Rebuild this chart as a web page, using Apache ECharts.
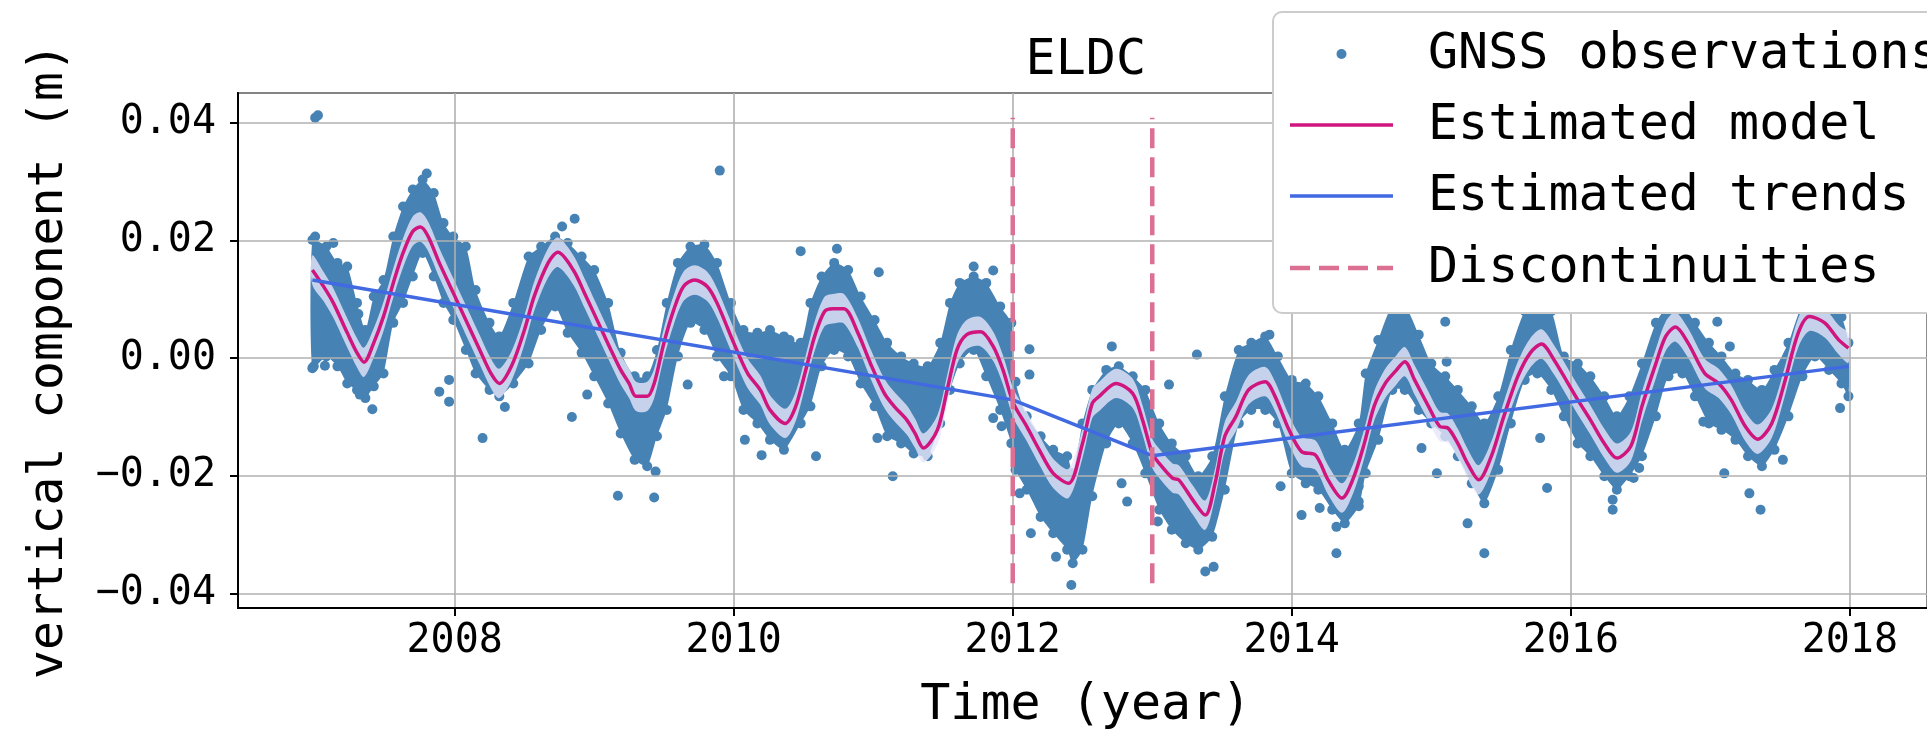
<!DOCTYPE html>
<html><head><meta charset="utf-8">
<script src="https://cdn.jsdelivr.net/npm/echarts@6/dist/echarts.min.js"></script>
<style>html,body{margin:0;padding:0;background:#fff}#c{width:1927px;height:736px}</style>
</head><body><div id="c"></div>
<script>
// ---- data ----
const envTime  = [2006.98,2007.08,2007.16,2007.23,2007.30,2007.36,2007.42,2007.49,2007.56,2007.63,2007.70,2007.77,2007.85,2007.92,2007.99,2008.08,2008.15,2008.25,2008.32,2008.42,2008.53,2008.62,2008.72,2008.81,2008.91,2009.00,2009.10,2009.19,2009.29,2009.38,2009.45,2009.52,2009.60,2009.69,2009.79,2009.88,2009.98,2010.07,2010.17,2010.26,2010.36,2010.48,2010.55,2010.63,2010.72,2010.82,2010.91,2011.01,2011.10,2011.20,2011.29,2011.39,2011.48,2011.55,2011.62,2011.72,2011.81,2011.91,2011.99,2012.02,2012.10,2012.20,2012.29,2012.39,2012.43,2012.50,2012.57,2012.67,2012.76,2012.86,2012.95,2013.05,2013.14,2013.24,2013.33,2013.43,2013.52,2013.62,2013.71,2013.81,2013.90,2014.00,2014.10,2014.19,2014.29,2014.38,2014.48,2014.53,2014.62,2014.72,2014.81,2014.91,2015.00,2015.10,2015.19,2015.29,2015.38,2015.48,2015.57,2015.67,2015.76,2015.86,2015.95,2016.05,2016.14,2016.24,2016.33,2016.42,2016.51,2016.61,2016.70,2016.80,2016.89,2016.99,2017.08,2017.18,2017.27,2017.37,2017.46,2017.56,2017.66,2017.75,2017.85,2017.94,2017.99];
const envUpper = [0.0201,0.0190,0.0162,0.0156,0.0094,0.0048,0.0105,0.0133,0.0207,0.0258,0.0287,0.0304,0.0281,0.0230,0.0207,0.0190,0.0116,0.0060,0.0037,0.0094,0.0173,0.0190,0.0207,0.0196,0.0173,0.0150,0.0094,0.0009,-0.0031,-0.0031,0.0014,0.0094,0.0162,0.0190,0.0193,0.0162,0.0094,0.0048,0.0043,0.0048,0.0037,0.0026,0.0094,0.0139,0.0162,0.0150,0.0105,0.0065,0.0026,0.0003,-0.0009,-0.0014,0.0026,0.0094,0.0128,0.0139,0.0128,0.0088,0.0060,-0.0040,-0.0099,-0.0133,-0.0156,-0.0167,-0.0196,-0.0111,-0.0054,-0.0020,-0.0014,-0.0031,-0.0054,-0.0111,-0.0145,-0.0167,-0.0201,-0.0167,-0.0065,0.0014,0.0026,0.0037,0.0003,-0.0037,-0.0043,-0.0065,-0.0111,-0.0156,-0.0111,-0.0026,0.0031,0.0090,0.0090,0.0040,-0.0009,-0.0031,-0.0054,-0.0082,-0.0111,-0.0065,0.0014,0.0080,0.0090,0.0080,0.0003,-0.0009,-0.0031,-0.0065,-0.0099,-0.0065,-0.0009,0.0060,0.0090,0.0090,0.0060,0.0026,0.0003,-0.0026,-0.0037,-0.0054,-0.0020,0.0026,0.0090,0.0090,0.0085,0.0070,0.0026];
const envLower = [-0.0017,0.0003,-0.0014,-0.0043,-0.0054,-0.0068,-0.0048,-0.0026,0.0060,0.0094,0.0139,0.0179,0.0139,0.0094,0.0065,0.0014,-0.0026,-0.0054,-0.0065,-0.0043,-0.0009,0.0048,0.0088,0.0043,0.0009,-0.0031,-0.0077,-0.0128,-0.0173,-0.0184,-0.0133,-0.0088,0.0003,0.0060,0.0048,0.0003,-0.0031,-0.0088,-0.0111,-0.0139,-0.0156,-0.0111,-0.0082,-0.0014,0.0014,0.0003,-0.0043,-0.0082,-0.0133,-0.0145,-0.0162,-0.0167,-0.0111,-0.0054,-0.0009,0.0014,-0.0031,-0.0088,-0.0145,-0.0190,-0.0224,-0.0270,-0.0298,-0.0326,-0.0349,-0.0326,-0.0235,-0.0145,-0.0111,-0.0145,-0.0196,-0.0258,-0.0292,-0.0315,-0.0326,-0.0304,-0.0224,-0.0111,-0.0088,-0.0088,-0.0111,-0.0196,-0.0213,-0.0224,-0.0258,-0.0281,-0.0252,-0.0196,-0.0139,-0.0054,-0.0054,-0.0088,-0.0111,-0.0133,-0.0167,-0.0213,-0.0247,-0.0190,-0.0111,-0.0037,-0.0026,-0.0054,-0.0099,-0.0145,-0.0167,-0.0201,-0.0224,-0.0201,-0.0167,-0.0099,-0.0031,-0.0026,-0.0065,-0.0111,-0.0122,-0.0139,-0.0167,-0.0184,-0.0156,-0.0099,-0.0031,0.0003,-0.0020,-0.0043,-0.0065];

const outlierTime  = [2007.00,2007.02,2007.80,2007.41,2008.20,2007.89,2007.96,2007.96,2006.99,2007.07,2008.36,2007.32,2007.31,2007.00,2007.13,2009.90,2008.86,2008.77,2008.84,2008.95,2009.17,2009.43,2009.44,2009.67,2009.93,2010.08,2010.20,2010.40,2010.48,2010.74,2011.04,2010.59,2011.14,2011.03,2011.72,2011.86,2011.86,2011.92,2012.12,2012.12,2012.13,2012.31,2012.42,2012.05,2012.71,2013.32,2013.12,2012.78,2012.82,2013.04,2013.38,2013.44,2013.92,2013.84,2014.07,2014.20,2014.32,2014.32,2015.10,2015.11,2014.93,2015.04,2015.26,2015.38,2015.78,2015.83,2016.30,2016.30,2014.48,2014.48,2017.14,2017.05,2016.95,2017.10,2017.28,2017.36,2017.52,2017.93,2016.49,2016.45];
const outlierValue = [0.0409,0.0413,0.0314,-0.0087,-0.0136,-0.0057,-0.0074,-0.0037,-0.0014,-0.0013,-0.0083,-0.0062,0.0075,0.0207,0.0196,0.0319,0.0237,0.0224,-0.0100,-0.0062,-0.0234,-0.0237,-0.0193,-0.0045,-0.0031,-0.0139,-0.0165,0.0031,0.0182,0.0186,0.0146,-0.0167,-0.0201,-0.0136,0.0156,0.0149,-0.0102,-0.0116,0.0015,-0.0028,-0.0298,-0.0338,-0.0386,-0.0230,0.0020,0.0006,-0.0045,-0.0213,-0.0244,-0.0278,-0.0363,-0.0355,-0.0218,0.0040,-0.0267,-0.0255,-0.0332,-0.0287,0.0062,-0.0006,-0.0153,-0.0196,-0.0281,-0.0332,-0.0136,-0.0221,-0.0258,-0.0241,-0.0218,-0.0244,0.0020,0.0062,-0.0108,-0.0196,-0.0230,-0.0258,-0.0173,-0.0085,-0.0187,-0.0204];

const modelTime  = [2006.98,2007.06,2007.13,2007.23,2007.30,2007.35,2007.42,2007.49,2007.56,2007.63,2007.70,2007.755,2007.81,2007.89,2007.99,2008.08,2008.18,2008.26,2008.32,2008.41,2008.50,2008.57,2008.67,2008.74,2008.85,2008.93,2009.03,2009.12,2009.19,2009.25,2009.30,2009.38,2009.43,2009.50,2009.57,2009.64,2009.72,2009.81,2009.88,2010.00,2010.10,2010.19,2010.26,2010.37,2010.44,2010.51,2010.58,2010.65,2010.71,2010.79,2010.89,2010.98,2011.08,2011.15,2011.24,2011.30,2011.36,2011.46,2011.53,2011.60,2011.67,2011.77,2011.86,2011.93,2012.005,2012.10,2012.19,2012.29,2012.40,2012.50,2012.57,2012.62,2012.74,2012.86,2012.93,2013.00,2013.05,2013.145,2013.19,2013.29,2013.38,2013.45,2013.52,2013.60,2013.69,2013.81,2013.88,2013.98,2014.07,2014.17,2014.26,2014.36,2014.44,2014.52,2014.59,2014.67,2014.74,2014.81,2014.88,2014.98,2015.06,2015.12,2015.19,2015.26,2015.34,2015.43,2015.52,2015.62,2015.71,2015.79,2015.88,2015.98,2016.05,2016.14,2016.24,2016.33,2016.43,2016.51,2016.61,2016.68,2016.75,2016.84,2016.96,2017.06,2017.15,2017.25,2017.34,2017.44,2017.53,2017.63,2017.71,2017.82,2017.92,2017.99];
const modelValue = [0.0150,0.0122,0.0094,0.0043,0.0009,-0.0007,0.0026,0.0071,0.0128,0.0179,0.0216,0.0223,0.0207,0.0162,0.0111,0.0065,0.0014,-0.0026,-0.0043,-0.0012,0.0048,0.0105,0.0162,0.0180,0.0150,0.0111,0.0060,0.0014,-0.0020,-0.0043,-0.0065,-0.0065,-0.0043,0.0026,0.0082,0.0122,0.0133,0.0122,0.0094,0.0026,-0.0026,-0.0054,-0.0088,-0.0111,-0.0085,-0.0026,0.0037,0.0079,0.0084,0.0084,0.0043,-0.0009,-0.0060,-0.0082,-0.0105,-0.0128,-0.0153,-0.0122,-0.0054,0.0014,0.0040,0.0045,0.0020,-0.0020,-0.0077,-0.0116,-0.0156,-0.0196,-0.0213,-0.0145,-0.0077,-0.0065,-0.0043,-0.0060,-0.0105,-0.0162,-0.0179,-0.0204,-0.0207,-0.0241,-0.0267,-0.0213,-0.0133,-0.0099,-0.0054,-0.0040,-0.0065,-0.0122,-0.0159,-0.0165,-0.0207,-0.0238,-0.0205,-0.0145,-0.0082,-0.0043,-0.0023,-0.0006,-0.0037,-0.0082,-0.0116,-0.0119,-0.0145,-0.0179,-0.0207,-0.0167,-0.0099,-0.0031,0.0009,0.0024,-0.0003,-0.0043,-0.0071,-0.0105,-0.0145,-0.0170,-0.0150,-0.0082,-0.0009,0.0037,0.0053,0.0026,-0.0026,-0.0043,-0.0071,-0.0116,-0.0138,-0.0111,-0.0043,0.0043,0.0071,0.0060,0.0031,0.0017];
const bandHalfWidth = 0.0025;

const trendTime  = [2006.98, 2012.0, 2013.0, 2017.99];
const trendValue = [0.0133, -0.0071, -0.0166, -0.0014];

const discontinuityTime = [2012.0, 2013.0];
const discontinuitySpan = [-0.0383, 0.0409];

const legendLabels = ['GNSS observations', 'Estimated model', 'Estimated trends', 'Discontinuities'];
const titleText = 'ELDC';
const xAxisTitle = 'Time (year)';
const yAxisTitle = 'vertical component (m)';

// ---- chart ----
const FONT = 'DejaVu Sans Mono';
const C_OBS = '#4682b4', C_MODEL = '#d0157f', C_TREND = '#4169e1', C_DISC = '#db7093';
const chart = echarts.init(document.getElementById('c'), null, {renderer: 'canvas'});

const obsPoints = [];
envTime.forEach((t, i) => { obsPoints.push([t, envUpper[i]]); obsPoints.push([t, envLower[i]]); });
outlierTime.forEach((t, i) => obsPoints.push([t, outlierValue[i]]));

const modelData = modelTime.map((t, i) => [t, modelValue[i]]);
const trendData = trendTime.map((t, i) => [t, trendValue[i]]);

const fmtY = v => {
  if (Math.abs(v) < 1e-9) return '0.00';
  return (v < 0 ? '\u2212' : '') + Math.abs(v).toFixed(2);
};

const series = [
  { // dense core of the observation cloud
    type: 'custom', coordinateSystem: 'cartesian2d', z: 0, silent: true,
    data: [[2010, 0]],
    renderItem: (p, api) => {
      const pts = [];
      for (let i = 0; i < envTime.length; i++) pts.push(api.coord([envTime[i], envUpper[i]]));
      for (let i = envTime.length - 1; i >= 0; i--) pts.push(api.coord([envTime[i], envLower[i]]));
      return { type: 'polygon', shape: { points: pts, smooth: 0.2 }, style: { fill: C_OBS } };
    }
  },
  {
    name: legendLabels[0], type: 'scatter', z: 1, silent: true,
    symbol: 'circle', symbolSize: 10, itemStyle: { color: C_OBS, opacity: 1 },
    data: obsPoints
  },
  { // uncertainty band of the model
    type: 'custom', coordinateSystem: 'cartesian2d', z: 2, silent: true,
    data: [[2010, 0]],
    renderItem: (p, api) => {
      const pts = [];
      for (let i = 0; i < modelTime.length; i++) pts.push(api.coord([modelTime[i], modelValue[i] + bandHalfWidth]));
      for (let i = modelTime.length - 1; i >= 0; i--) pts.push(api.coord([modelTime[i], modelValue[i] - bandHalfWidth]));
      return { type: 'polygon', shape: { points: pts, smooth: 0.3 }, style: { fill: 'rgba(230,230,250,0.8)' } };
    }
  },
  {
    name: legendLabels[1], type: 'line', z: 4, silent: true, symbol: 'none', smooth: 0.3,
    lineStyle: { color: C_MODEL, width: 3.5 }, data: modelData
  },
  {
    name: legendLabels[2], type: 'line', z: 5, silent: true, symbol: 'none',
    lineStyle: { color: C_TREND, width: 3.5 }, data: trendData
  }
];
discontinuityTime.forEach(t => series.push({
  name: legendLabels[3], type: 'line', z: 6, silent: true, symbol: 'none',
  lineStyle: { color: C_DISC, width: 4.5, type: [20, 9] },
  data: [[t, discontinuitySpan[0]], [t, discontinuitySpan[1]]]
}));

const LX = 1273, LY = 12;
const rowY = [54, 125, 196, 268];
const F50 = '50px "' + FONT + '"';
const F48 = '48px "' + FONT + '"';
const graphic = [
  { type: 'rect', z: 100, shape: { x: LX, y: LY, width: 720, height: 301, r: 9 },
    style: { fill: '#fff', stroke: '#cccccc', lineWidth: 2 } },
  { type: 'circle', z: 101, shape: { cx: 1341.5, cy: rowY[0], r: 5 }, style: { fill: C_OBS } },
  { type: 'line', z: 101, shape: { x1: 1290, y1: rowY[1], x2: 1393, y2: rowY[1] }, style: { stroke: C_MODEL, lineWidth: 3.5 } },
  { type: 'line', z: 101, shape: { x1: 1290, y1: rowY[2], x2: 1393, y2: rowY[2] }, style: { stroke: C_TREND, lineWidth: 3.5 } },
  { type: 'line', z: 101, shape: { x1: 1290, y1: rowY[3], x2: 1393, y2: rowY[3] }, style: { stroke: C_DISC, lineWidth: 4.5, lineDash: [20, 9] } },
  { type: 'text', z: 10, style: { text: titleText, x: 1085.8, y: 61, font: F50, fill: '#000', textAlign: 'center', textVerticalAlign: 'middle' } },
  { type: 'text', z: 10, style: { text: xAxisTitle, x: 1085.8, y: 706, font: F50, fill: '#000', textAlign: 'center', textVerticalAlign: 'middle' } },
  { type: 'text', z: 10, x: 50, y: 361, rotation: Math.PI / 2,
    style: { text: yAxisTitle, x: 0, y: 0, font: F48, fill: '#000', textAlign: 'center', textVerticalAlign: 'middle' } }
];
legendLabels.forEach((s, i) => graphic.push({
  type: 'text', z: 101, style: { text: s, x: 1428, y: rowY[i] + 1, font: F50, fill: '#000', textAlign: 'left', textVerticalAlign: 'middle' }
}));

chart.setOption({
  animation: false,
  backgroundColor: '#fff',
  grid: { left: 238, top: 93, right: -7, bottom: 128, show: true, borderColor: '#000', borderWidth: 2, backgroundColor: 'transparent', z: 3 },
  xAxis: {
    type: 'value', min: 2006.447, max: 2018.553, z: 3,
    axisLine: { show: true, onZero: false, lineStyle: { color: '#000', width: 2 } },
    axisTick: { show: true, inside: false, length: 8, lineStyle: { color: '#000', width: 2 } },
    axisLabel: { fontFamily: FONT, fontSize: 40, color: '#000', margin: 14, showMinLabel: false, showMaxLabel: false, formatter: v => String(Math.round(v)) },
    splitLine: { show: true, lineStyle: { color: '#b0b0b0', width: 1.6 } }
  },
  yAxis: {
    type: 'value', min: -0.0425, max: 0.0451, z: 3,
    axisLine: { show: true, onZero: false, lineStyle: { color: '#000', width: 2 } },
    axisTick: { show: true, inside: false, length: 8, lineStyle: { color: '#000', width: 2 } },
    axisLabel: { fontFamily: FONT, fontSize: 40, color: '#000', margin: 22, showMinLabel: false, showMaxLabel: false, formatter: fmtY },
    splitLine: { show: true, lineStyle: { color: '#b0b0b0', width: 1.6 } }
  },
  graphic: graphic,
  series: series
});
</script></body></html>
